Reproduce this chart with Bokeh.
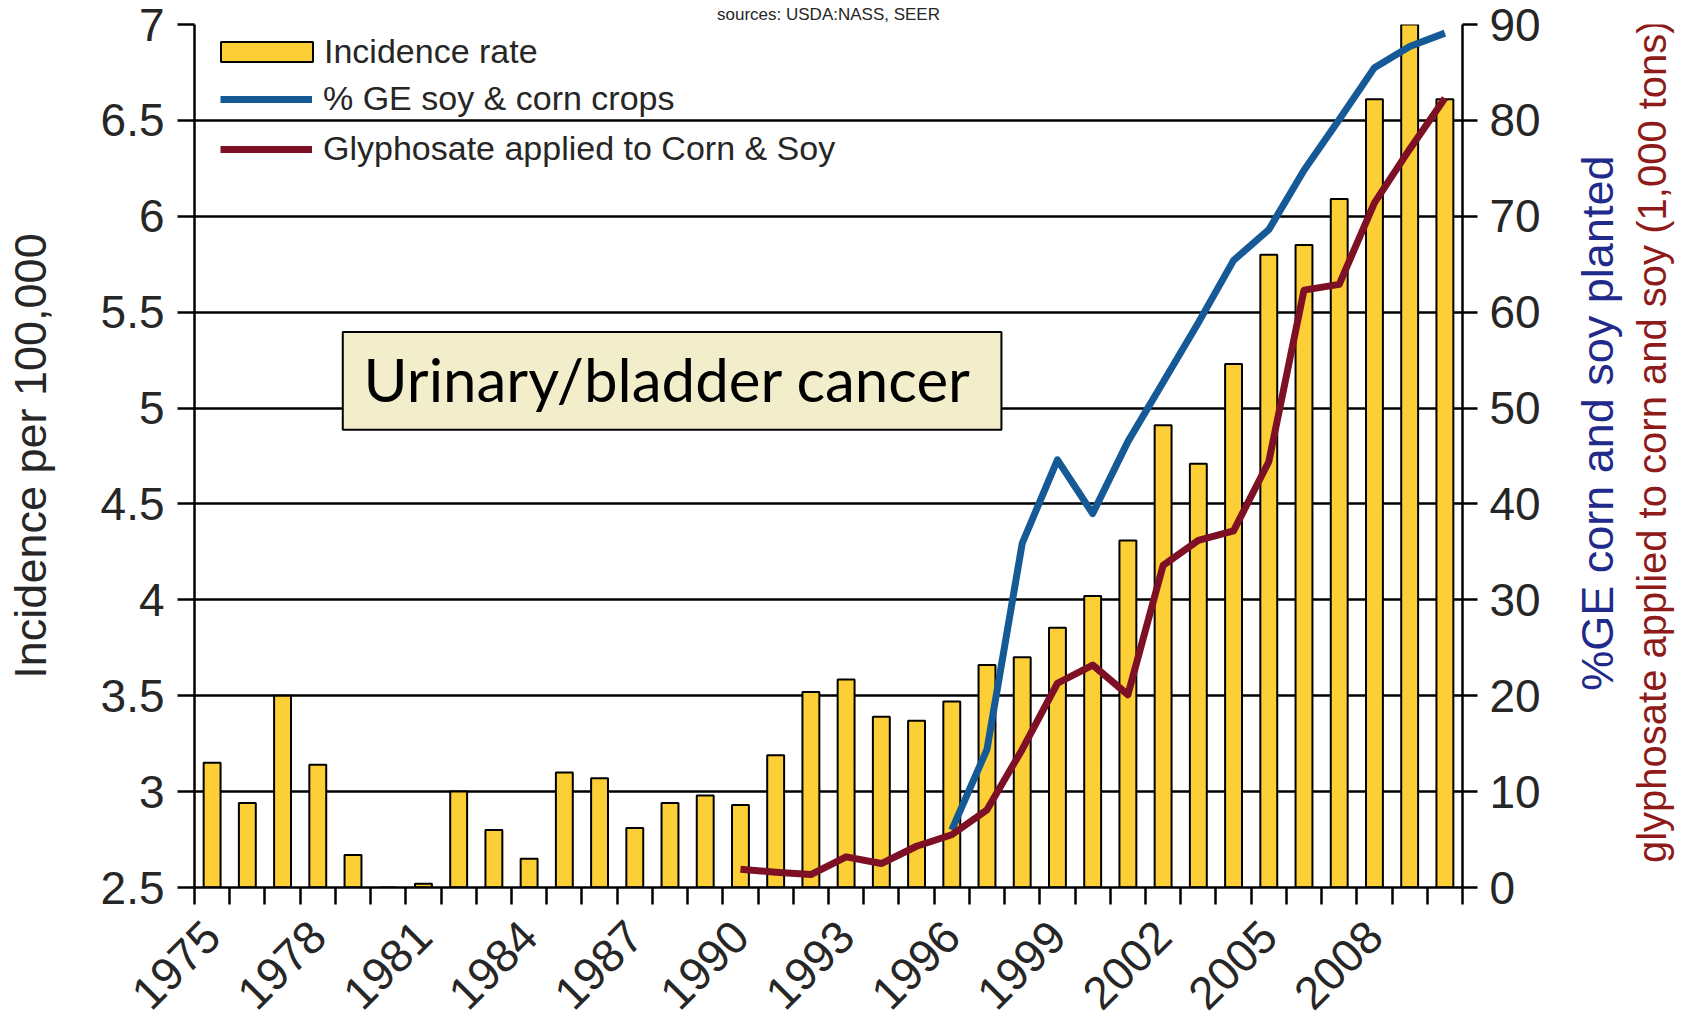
from math import pi
from bokeh.plotting import figure
from bokeh.layouts import row
from bokeh.models import (Range1d, LinearAxis, FixedTicker, Legend, LegendItem,
                          Label, BoxAnnotation)
from bokeh.core.properties import value
from bokeh.embed import file_html
from bokeh.resources import INLINE

# ---------------- data ----------------
years = list(range(1975, 2011))
incidence = [3.15, 2.94, 3.50, 3.14, 2.67, 2.50, 2.52, 3.00, 2.80, 2.65,
             3.10, 3.07, 2.81, 2.94, 2.98, 2.93, 3.19, 3.52, 3.585, 3.39,
             3.37, 3.47, 3.66, 3.70, 3.855, 4.02, 4.31, 4.91, 4.71, 5.23,
             5.80, 5.85, 6.09, 6.61, 7.05, 6.61]

ge_years = list(range(1996, 2011))
ge_pct = [6.0, 14.4, 35.9, 44.6, 39.0, 46.5, 52.7, 58.9, 65.4, 68.6,
          74.8, 80.1, 85.5, 87.7, 89.1]

gly_years = list(range(1990, 2011))
gly_tons = [1.9, 1.6, 1.35, 3.2, 2.5, 4.3, 5.5, 8.1, 14.4, 21.3, 23.2, 20.1,
            33.6, 36.2, 37.2, 44.4, 62.3, 62.9, 71.4, 77.0, 82.3]

x_label_years = [1975, 1978, 1981, 1984, 1987, 1990, 1993, 1996, 1999, 2002, 2005, 2008]
x_tick_labels = ["1975", "1978", "1981", "1984", "1987", "1990", "1993", "1996",
                 "1999", "2002", "2005", "2008"]
y_ticks = [2.5, 3, 3.5, 4, 4.5, 5, 5.5, 6, 6.5, 7]
y_tick_labels = ["2.5", "3", "3.5", "4", "4.5", "5", "5.5", "6", "6.5", "7"]
pct_ticks = [0, 10, 20, 30, 40, 50, 60, 70, 80, 90]
pct_tick_labels = ["0", "10", "20", "30", "40", "50", "60", "70", "80", "90"]

series_names = ["Incidence rate", "% GE soy & corn crops", "Glyphosate applied to Corn & Soy"]
title_text = "sources: USDA:NASS, SEER"
box_text = "Urinary/bladder cancer"
y_title = "Incidence per 100,000"
r1_title = "%GE corn and soy planted"
r2_title = "glyphosate applied to corn and soy (1,000 tons)"

# ---------------- styles / layout ----------------
FONT = "Liberation Sans"
TXT = "#262626"
BAR = "#FBCF35"
BLUE = "#155A96"
RED = "#7D1024"
W, H = 1550, 1026            # main chart
W2 = 1686 - W                # strip on the right holding the two right titles
LEFT, TOP, RIGHT, BOTTOM = 194, 24, 88, 138

x0, x1 = years[0] - 0.5, years[-1] + 0.5
y0, y1 = 2.5, 7.0

p = figure(width=W, height=H,
           x_range=Range1d(x0, x1), y_range=Range1d(y0, y1),
           output_backend="svg", toolbar_location=None,
           min_border_left=LEFT, min_border_top=TOP, min_border_right=RIGHT,
           min_border_bottom=BOTTOM, outline_line_color=None,
           background_fill_color="white", border_fill_color="white")
p.extra_y_ranges = {"pct": Range1d(0, 90)}

# small title in the top margin
p.title.text = title_text
p.title.align = "center"
p.title.offset = 8
p.title.standoff = 2
p.title.text_font = FONT
p.title.text_font_size = "17px"
p.title.text_font_style = "normal"
p.title.text_color = TXT

# grid
p.xgrid.visible = False
p.ygrid.ticker = FixedTicker(ticks=y_ticks)
p.ygrid.grid_line_color = "black"
p.ygrid.grid_line_width = 2.5

# bottom axis
xa = p.xaxis[0]
xa.ticker = FixedTicker(ticks=x_label_years,
                        minor_ticks=[y - 0.5 for y in years] + [x1])
xa.major_label_overrides = dict(zip(x_label_years, x_tick_labels))
xa.major_tick_out = 0
xa.major_tick_in = 0
xa.minor_tick_out = 17
xa.minor_tick_in = 0
xa.minor_tick_line_color = "black"
xa.minor_tick_line_width = 2.5
xa.axis_line_width = 2.5
xa.axis_line_color = "black"
xa.major_label_orientation = pi / 4
xa.major_label_standoff = 24
xa.major_label_text_font = FONT
xa.major_label_text_font_size = "46px"
xa.major_label_text_color = TXT

# left axis
ya = p.yaxis[0]
ya.ticker = FixedTicker(ticks=y_ticks)
ya.major_label_overrides = dict(zip(y_ticks, y_tick_labels))
ya.major_tick_out = 17
ya.major_tick_in = 0
ya.major_tick_line_width = 2.5
ya.minor_tick_out = 0
ya.minor_tick_in = 0
ya.axis_line_width = 2.5
ya.major_label_standoff = 13
ya.major_label_text_font = FONT
ya.major_label_text_font_size = "46px"
ya.major_label_text_color = TXT
ya.axis_label = y_title
ya.axis_label_text_font = FONT
ya.axis_label_text_font_size = "45px"
ya.axis_label_text_font_style = "normal"
ya.axis_label_text_color = TXT
ya.axis_label_standoff = 42

# right axis (ticks only)
ra = LinearAxis(y_range_name="pct", ticker=FixedTicker(ticks=pct_ticks))
ra.major_label_overrides = dict(zip(pct_ticks, pct_tick_labels))
ra.major_tick_out = 15
ra.major_tick_in = 0
ra.major_tick_line_width = 2.5
ra.minor_tick_out = 0
ra.minor_tick_in = 0
ra.axis_line_width = 2.5
ra.major_label_standoff = 12
ra.major_label_text_font = FONT
ra.major_label_text_font_size = "46px"
ra.major_label_text_color = TXT
p.add_layout(ra, "right")

# bars and lines
bars = p.vbar(x=years, top=incidence, bottom=y0, width=0.48,
              fill_color=BAR, line_color="black", line_width=2)
ge_line = p.line(ge_years, ge_pct, y_range_name="pct", line_color=BLUE,
                 line_width=7, line_join="round")
gly_line = p.line(gly_years, gly_tons, y_range_name="pct", line_color=RED,
                  line_width=7, line_join="round")

# legends
leg_common = dict(padding=0, margin=0, spacing=11, label_height=34,
                  background_fill_alpha=0, border_line_alpha=0,
                  label_text_font=FONT, label_text_font_size="34px",
                  label_text_color=TXT)
leg1 = Legend(items=[LegendItem(label=series_names[0], renderers=[bars])],
              location=(15, 816), glyph_width=115, glyph_height=25,
              label_standoff=0, **leg_common)
leg2 = Legend(items=[LegendItem(label=series_names[1], renderers=[ge_line]),
                     LegendItem(label=series_names[2], renderers=[gly_line])],
              location=(26, 719), glyph_width=92, glyph_height=20,
              label_standoff=11, **leg_common)
p.add_layout(leg1)
p.add_layout(leg2)

# annotation box
p.add_layout(BoxAnnotation(left=1978.71, right=1997.41, top=5.397, bottom=4.887,
                           fill_color="#F2EDCB", fill_alpha=1,
                           line_color="black", line_alpha=1, line_width=2))
p.add_layout(Label(x=1979.3, y=5.150, text=box_text, text_font="Lato",
                   text_font_size="60px", text_color="black",
                   text_baseline="middle"))

# ---------------- right strip: the two right-hand axis titles ----------------
# pixel coordinate system of the strip (y measured from the top)
p2 = figure(width=W2, height=H, x_range=Range1d(0, W2), y_range=Range1d(H, 0),
            output_backend="svg", toolbar_location=None,
            x_axis_location=None, y_axis_location=None,
            min_border_left=0, min_border_right=0, min_border_top=0,
            min_border_bottom=0, outline_line_color=None,
            background_fill_color="white", border_fill_color="white")
p2.xgrid.visible = False
p2.ygrid.visible = False
R1_POS = (47, 474)     # centre of the blue title, px inside the strip
R2_POS = (101, 496)    # centre of the red title
p2.text(x=[R1_POS[0]], y=[R1_POS[1]], text=[r1_title], angle=pi / 2,
        text_font=value(FONT), text_font_size="45px", text_color="#1F2A8A",
        text_align="center", text_baseline="middle")
p2.text(x=[R2_POS[0]], y=[R2_POS[1]], text=[r2_title], angle=pi / 2,
        text_font=value(FONT), text_font_size="40px", text_color="#8E1A1A",
        text_align="center", text_baseline="middle")

layout = row(p, p2, spacing=0)
open("out.html", "w").write(file_html(layout, INLINE))
